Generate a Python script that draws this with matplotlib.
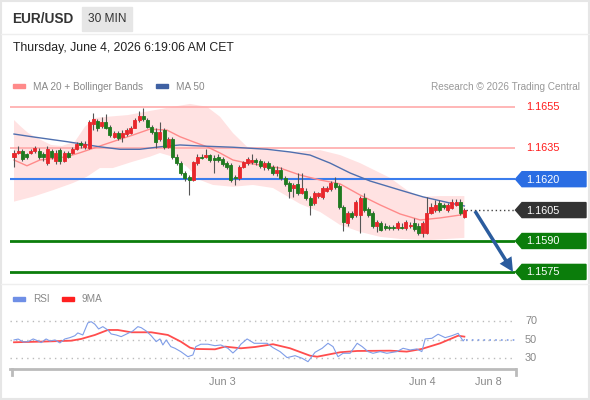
import matplotlib
matplotlib.use("Agg")
import matplotlib.pyplot as plt
from matplotlib.patches import Polygon, Rectangle, FancyArrow

plt.rcParams['font.family'] = ['Liberation Sans', 'DejaVu Sans']

W, H = 590, 400

# -----------------------------------------------------------
# data (30 min candles)
# -----------------------------------------------------------
opens = [1.1631, 1.16325, 1.16335, 1.1632, 1.16325, 1.16335, 1.16335, 1.1632, 1.1628, 1.16335,
         1.1629, 1.1634, 1.1629, 1.16325, 1.16325, 1.16345, 1.16375, 1.16355, 1.1635, 1.1647,
         1.1648, 1.1646, 1.16475, 1.16455, 1.16405, 1.16425, 1.16405, 1.1642, 1.16425, 1.1645,
         1.16485, 1.16505, 1.16485, 1.16455, 1.1643, 1.16395, 1.1644, 1.16355, 1.16395, 1.1631,
         1.1628, 1.1623, 1.1621, 1.16195, 1.1628, 1.1631, 1.1631, 1.16315, 1.16305, 1.1631,
         1.163, 1.1628, 1.1627, 1.1621, 1.16205, 1.1626, 1.1628, 1.16285, 1.16295, 1.1629,
         1.1626, 1.1628, 1.1626, 1.1623, 1.16245, 1.16205, 1.1618, 1.16155, 1.16175, 1.16135,
         1.16145, 1.1611, 1.16085, 1.1612, 1.16115, 1.16145, 1.1615, 1.1618, 1.16165, 1.16065,
         1.15985, 1.16035, 1.16025, 1.16025, 1.1611, 1.16055, 1.16035, 1.15975, 1.15985, 1.15975,
         1.1597, 1.1597, 1.15965, 1.1597, 1.15965, 1.15975, 1.15985, 1.15975, 1.1594, 1.1594,
         1.16035, 1.1605, 1.16085, 1.16075, 1.1605, 1.1606, 1.16075, 1.1609, 1.16015]
closes = [1.16325, 1.16335, 1.1630, 1.1631, 1.16335, 1.1635, 1.1631, 1.1631, 1.16345, 1.1631,
          1.16325, 1.1629, 1.16325, 1.1631, 1.16345, 1.1637, 1.16365, 1.1637, 1.16475, 1.1649,
          1.1645, 1.16475, 1.1645, 1.16415, 1.16425, 1.1640, 1.16425, 1.1644, 1.1645, 1.16485,
          1.16505, 1.1649, 1.16455, 1.1643, 1.1638, 1.1643, 1.16355, 1.16395, 1.1631, 1.1628,
          1.1623, 1.16205, 1.16195, 1.16285, 1.1631, 1.16305, 1.16315, 1.16295, 1.16295, 1.16295,
          1.16275, 1.1626, 1.16195, 1.16205, 1.1626, 1.16285, 1.1630, 1.16295, 1.16285, 1.16265,
          1.1628, 1.16255, 1.1623, 1.16245, 1.16205, 1.16175, 1.16145, 1.1617, 1.16135, 1.16155,
          1.1611, 1.16075, 1.16135, 1.16135, 1.16155, 1.16155, 1.1618, 1.1616, 1.16065, 1.15992,
          1.16035, 1.16015, 1.1609, 1.1611, 1.1605, 1.16025, 1.15975, 1.1599, 1.15955, 1.15965,
          1.15965, 1.15965, 1.15985, 1.15965, 1.1599, 1.1598, 1.1596, 1.1594, 1.15985, 1.16035,
          1.16065, 1.16075, 1.1605, 1.16065, 1.16075, 1.1609, 1.1609, 1.16035, 1.1605]
highs = [1.1634, 1.1636, 1.16345, 1.16325, 1.16345, 1.1636, 1.1635, 1.1633, 1.1636, 1.16345,
         1.1634, 1.1635, 1.16335, 1.16335, 1.16355, 1.1638, 1.16385, 1.16385, 1.16485, 1.1652,
         1.1649, 1.165, 1.16515, 1.16465, 1.16435, 1.16435, 1.1644, 1.1645, 1.1646, 1.16495,
         1.1653, 1.16545, 1.16495, 1.16465, 1.1645, 1.16475, 1.1645, 1.16405, 1.16405, 1.1632,
         1.1629, 1.1624, 1.1622, 1.1629, 1.1632, 1.1632, 1.16345, 1.1632, 1.16315, 1.1632,
         1.1631, 1.1629, 1.1628, 1.1622, 1.1627, 1.1629, 1.1631, 1.1632, 1.16305, 1.163,
         1.1629, 1.1629, 1.1627, 1.16265, 1.1626, 1.16215, 1.1619, 1.1618, 1.1623, 1.1623,
         1.16155, 1.1612, 1.16145, 1.1614, 1.16165, 1.16165, 1.1619, 1.1621, 1.16175, 1.16075,
         1.16045, 1.16045, 1.161, 1.1612, 1.16135, 1.16065, 1.16045, 1.16, 1.15995, 1.15985,
         1.1598, 1.1598, 1.15995, 1.15985, 1.16, 1.1599, 1.1601, 1.15985, 1.15995, 1.16115,
         1.16085, 1.161, 1.161, 1.16085, 1.16085, 1.16105, 1.16105, 1.16105, 1.1606]
lows = [1.1626, 1.1632, 1.1629, 1.163, 1.1632, 1.16325, 1.163, 1.1629, 1.1627, 1.163,
        1.16275, 1.16275, 1.16285, 1.16305, 1.1632, 1.1634, 1.1635, 1.16345, 1.16345, 1.1644,
        1.16435, 1.1645, 1.16445, 1.16405, 1.164, 1.1639, 1.1638, 1.1641, 1.1642, 1.1645,
        1.16475, 1.1648, 1.1645, 1.1642, 1.1635, 1.16385, 1.16345, 1.1635, 1.163, 1.1627,
        1.1622, 1.1619, 1.16125, 1.1619, 1.1627, 1.163, 1.16305, 1.16285, 1.1623, 1.16285,
        1.16265, 1.1625, 1.16185, 1.1617, 1.16195, 1.16255, 1.1627, 1.16275, 1.1627, 1.16255,
        1.16245, 1.16245, 1.1622, 1.16215, 1.16195, 1.16165, 1.1611, 1.16115, 1.16125, 1.1613,
        1.161, 1.16025, 1.16075, 1.1611, 1.16105, 1.1614, 1.16145, 1.1615, 1.16055, 1.1595,
        1.15975, 1.16005, 1.16015, 1.1594, 1.1604, 1.16015, 1.15965, 1.15945, 1.1595, 1.15955,
        1.15955, 1.15955, 1.15955, 1.1596, 1.15955, 1.15965, 1.1595, 1.1593, 1.1592, 1.15935,
        1.1603, 1.1604, 1.1604, 1.16055, 1.1604, 1.16055, 1.1607, 1.16025, 1.1601]

# indicator traces (candle index, value)
ma20_idx = [0, 3.1, 6.2, 12.7, 15.8, 20.6, 23.7, 28.5, 32.6, 36.7, 39.8, 42.9, 46.3, 49.4,
            52.5, 55.9, 59.0, 63.8, 68.6, 73.4, 78.2, 83.0, 87.8, 92.6, 97.4, 102.2, 107.0, 108]
ma20 = [1.16293, 1.16265, 1.16293, 1.16309, 1.16328, 1.16361, 1.16382, 1.16414, 1.16443,
        1.16438, 1.16406, 1.16382, 1.16357, 1.16327, 1.16293, 1.16278, 1.16269, 1.16254,
        1.16220, 1.16196, 1.16177, 1.16123, 1.16075, 1.16031, 1.16002, 1.16012, 1.16026, 1.16036]

ma50_idx = [0, 4.6, 12.7, 20.6, 25.4, 30.2, 35.0, 39.8, 44.6, 52.5, 60.7, 66.2, 71.0, 75.8,
            80.6, 85.4, 92.6, 98.1, 104.6, 108]
ma50 = [1.16419, 1.16405, 1.16382, 1.16357, 1.16345, 1.16345, 1.16357, 1.16366, 1.16361,
        1.16355, 1.16345, 1.16332, 1.16317, 1.16278, 1.16230, 1.16191, 1.16147, 1.16114,
        1.16084, 1.16070]

bb_up_idx = [0, 1.7, 3.4, 6.5, 8.9, 11.5, 14.6, 17.0, 19.4, 22.5, 27.3, 32.6, 38.1, 42.2,
             46.3, 49.4, 52.5, 55.9, 60.7, 66.2, 73.4, 78.2, 83.0, 90.2, 94.2, 97.4, 102.2, 108]
bb_up = [1.16487, 1.16454, 1.16424, 1.16390, 1.16366, 1.16361, 1.16382, 1.16454, 1.16497,
         1.16503, 1.16511, 1.16531, 1.16551, 1.16565, 1.16551, 1.16503, 1.16424, 1.16357,
         1.16341, 1.16333, 1.16341, 1.16317, 1.16278, 1.16206, 1.16147, 1.16114, 1.16118, 1.16118]

bb_lo_idx = [0, 4.6, 9.4, 14.1, 17.5, 20.6, 23.7, 28.5, 32.6, 35.0, 38.1, 41.5, 44.6, 47.7,
             52.5, 57.3, 62.1, 65.0, 68.6, 73.4, 78.2, 83.0, 87.8, 92.6, 99.8, 108]
bb_lo = [1.16091, 1.16115, 1.16147, 1.16181, 1.16212, 1.16254, 1.16254, 1.16285, 1.16309,
         1.16327, 1.16309, 1.16260, 1.16196, 1.16172, 1.16163, 1.16172, 1.16157, 1.16123,
         1.16080, 1.16041, 1.15978, 1.15944, 1.15920, 1.15910, 1.15905, 1.15915]

rsi_idx = [0, 1, 2.2, 3.4, 4.6, 5.8, 6.5, 7.7, 8.6, 9.8, 11, 12.2, 13.4, 14.6, 15.3, 16.5,
           17.7, 18.5, 19.4, 20.3, 21.3, 22.5, 23.3, 24.5, 25.7, 26.9, 28.5, 29.7, 30.5, 31.7,
           32.9, 34.1, 35, 35.7, 36.5, 37.6, 38.6, 40.0, 41.7, 42.9, 43.6, 44.8, 46.5, 48.2,
           49.6, 51.3, 52.5, 53.7, 54.4, 55.9, 57.6, 60.7, 62.1, 63.8, 65.5, 67.4, 69.1, 70.5,
           72.2, 73.9, 75.3, 76.5, 77.7, 78.9, 80.6, 82.3, 83.5, 84.9, 86.1, 87.8, 89.4, 91.8,
           93.3, 95.0, 96.6, 97.8, 98.6, 100.2, 101.7, 103.4, 105.0, 106.5, 107.7, 108]
rsi = [50, 51, 47.8, 48.2, 51.1, 48.9, 47.1, 51.1, 48.9, 50, 46.8, 51.1, 52.5, 54.6, 57.6, 55.4,
       68.4, 69.8, 67, 61.9, 64.4, 60.8, 56.5, 55.4, 53.6, 56.2, 59.7, 64.4, 63.3, 59.7,
       54.6, 48.2, 51.1, 44.6, 50, 42.8, 41, 37.4, 31.9, 33.8, 42.8, 45.4, 45.4, 43.8,
       44.6, 41, 35.9, 41, 45.4, 51.1, 46.4, 46.4, 41.7, 37.4, 30.9, 33, 30.2, 26.5,
       36.7, 41, 46.4, 42.8, 31.9, 35.6, 35.6, 46.4, 42.8, 37.4, 35.6, 37.4, 35.6, 37.4,
       41, 39.2, 40.3, 37.4, 51.1, 51.8, 56.2, 52.5, 54.6, 57.2, 48.9, 50.5]

ma9_idx = [0, 6.5, 13.7, 16.1, 19.4, 22.5, 24.9, 28.1, 32.9, 36.9, 40.0, 42.2, 43.4, 48.2,
           50.6, 54.4, 57.8, 62.1, 66.2, 71.0, 72.7, 78.2, 82.3, 90.2, 94.2, 97.8, 102.2,
           106.5, 108]
ma9 = [47.5, 48.2, 49.2, 51.1, 55.4, 60.8, 60.8, 58.3, 58.3, 55.4, 48.2, 41.7, 40.3, 39.9,
       42.8, 41, 42.4, 45.4, 41, 33, 31.9, 36.7, 38.1, 38.4, 37.4, 40.3, 46.4, 54.6, 53.6]

levels = [1.1655, 1.1635, 1.1620, 1.1605, 1.1590, 1.1575]
level_kind = ['res', 'res', 'pivot', 'last', 'sup', 'sup']

date_labels = ['Jun 3', 'Jun 4', 'Jun 8']
date_idx = [50, 98, 113.8]

# -----------------------------------------------------------
# layout helpers (pixel rectangles)
# -----------------------------------------------------------
STEP = 4.17      # px per candle
X0 = 14          # px of first candle
XL, XR = 10, 515


def px_axes(left, top, right, bottom):
    return fig.add_axes([left / W, 1 - bottom / H, (right - left) / W, (bottom - top) / H])


fig = plt.figure(figsize=(W / 100, H / 100), dpi=100)
fig.patch.set_facecolor('white')

ax = px_axes(XL, 92, XR, 282)
rax = px_axes(XL, 310, XR, 369)
xlim = ((XL - X0) / STEP, (XR - X0) / STEP)

# -----------------------------------------------------------
# price panel
# -----------------------------------------------------------
ax.set_xlim(*xlim)
ax.set_ylim(1.15701, 1.16623)
ax.axis('off')

# bollinger band: upper and lower traces were read on different x grids
band = list(zip(bb_up_idx, bb_up)) + list(zip(bb_lo_idx, bb_lo))[::-1]
ax.add_patch(Polygon(band, closed=True, facecolor='#ffe2e2', edgecolor='none', zorder=1))

colors = {'res': '#ffaaaa', 'pivot': '#3b7ded', 'sup': '#0b7d0b'}
widths = {'res': 1.2, 'pivot': 1.5, 'sup': 2}
for lv, kind in zip(levels, level_kind):
    if kind == 'last':
        ax.hlines(lv, len(closes) - 0.5, xlim[1], colors='#444444', linestyles=(0, (1, 2)),
                  lw=1, zorder=2)
    else:
        ax.axhline(lv, color=colors[kind], lw=widths[kind], zorder=2)

ax.plot(ma20_idx, ma20, color='#ff8a8a', lw=1, zorder=3)
ax.plot(ma50_idx, ma50, color='#4f6fae', lw=1, zorder=3)

for i in range(len(closes)):
    up = closes[i] >= opens[i]
    c = '#e8262b' if up else '#1f7a1f'
    ax.vlines(i, lows[i], highs[i], color='#555555', lw=0.8, zorder=4)
    lo_b = min(opens[i], closes[i])
    hi_b = max(opens[i], closes[i])
    ax.bar(i, hi_b - lo_b, bottom=lo_b, width=0.72, color=c, edgecolor=c, lw=0.6, zorder=5)

# -----------------------------------------------------------
# RSI panel
# -----------------------------------------------------------
rax.set_xlim(*xlim)
rax.set_ylim(18.6, 82.4)
for v in (70, 50, 30):
    rax.axhline(v, color='#bbbbbb', lw=1, ls=(0, (1, 3)), zorder=1)
rax.plot(ma9_idx, ma9, color='#ff4d4d', lw=1.3, zorder=3)
rax.plot(rsi_idx, rsi, color='#7f9de8', lw=0.8, zorder=4)
rax.hlines(rsi[-1], rsi_idx[-1] + 0.5, xlim[1], colors='#7f9de8', linestyles=(0, (1, 2.5)),
           lw=1.2, zorder=2)
for s in ('top', 'right', 'left'):
    rax.spines[s].set_visible(False)
rax.spines['bottom'].set_color('#bbbbbb')
rax.spines['bottom'].set_linewidth(2)
rax.set_yticks([])
rax.set_xticks(date_idx)
rax.set_xticklabels(date_labels, fontsize=7.8, color='#888888')
rax.tick_params(axis='x', length=0, pad=6)
rax.set_facecolor('none')

# -----------------------------------------------------------
# overlay: header, legends, labels
# -----------------------------------------------------------
ov = fig.add_axes([0, 0, 1, 1], zorder=10)
ov.set_xlim(0, W)
ov.set_ylim(H, 0)
ov.axis('off')


def ypx(axis, value):
    return H - axis.transData.transform((0, value))[1]


ov.add_patch(Rectangle((0.5, 0.5), W - 1.5, H - 1.5, fill=False, ec='#e6e6e6', lw=1.5))
ov.plot([1, W - 1], [34, 34], color='#eeeeee', lw=1)
ov.plot([1, W - 1], [284, 284], color='#eeeeee', lw=1)
ov.plot([XL + 2, XL + 2], [369, 375], color='#bbbbbb', lw=2)
ov.plot([XR + 1, XR + 1], [369, 375], color='#bbbbbb', lw=2)

ov.text(12, 19, 'EUR/USD', fontsize=9.8, fontweight='bold', color='#333333', va='center')
ov.add_patch(Rectangle((82, 7), 50, 24, color='#e6e6e6'))
ov.text(107, 19.5, '30 MIN', fontsize=8.6, color='#333333', va='center', ha='center')
ov.text(13, 48, 'Thursday, June 4, 2026 6:19:06 AM CET', fontsize=8.8, color='#222222',
        va='center')

ov.add_patch(Rectangle((13, 84), 12, 4, color='#ff8a8a'))
ov.text(33, 86.5, 'MA 20 + Bollinger Bands', fontsize=7.2, color='#888888', va='center')
ov.add_patch(Rectangle((156, 84), 12, 4, color='#3f61a3'))
ov.text(176, 86.5, 'MA 50', fontsize=7.2, color='#888888', va='center')
ov.text(580, 86.5, 'Research \u00a9 2026 Trading Central', fontsize=7.2, color='#999999',
        va='center', ha='right')

ov.add_patch(Rectangle((13, 297), 12, 4, color='#6f8fe6'))
ov.text(33, 299, 'RSI', fontsize=7.2, color='#888888', va='center')
ov.add_patch(Rectangle((62, 297), 12, 4, color='#ff2020'))
ov.text(82, 299, '9MA', fontsize=7.2, color='#888888', va='center')

for v in (70, 50, 30):
    ov.text(525, ypx(rax, v), str(v), fontsize=7.8, color='#888888', va='center')

box = {'pivot': '#2a6de3', 'last': '#333333', 'sup': '#0b7d0b'}
for lv, kind in zip(levels, level_kind):
    y = ypx(ax, lv)
    if kind == 'res':
        ov.text(526, y, f'{lv:.4f}', fontsize=7.8, color='#ff1a1a', va='center')
        continue
    hh = 7.5
    ov.add_patch(Polygon([(515.5, y), (522, y - hh), (586, y - hh), (586, y + hh), (522, y + hh)],
                         closed=True, color=box[kind]))
    ov.text(526, y + 0.5, f'{lv:.4f}', fontsize=7.8, color='white', va='center')

# projected move arrow
y_from = ypx(ax, closes[-1]) + 1
y_to = ypx(ax, levels[-1])
ov.add_patch(FancyArrow(475, y_from, 513 - 475, y_to - y_from, width=3.5, head_width=14,
                        head_length=14, length_includes_head=True, color='#2b5c9e', lw=0))

fig.savefig('out.png', dpi=100, facecolor='white')
